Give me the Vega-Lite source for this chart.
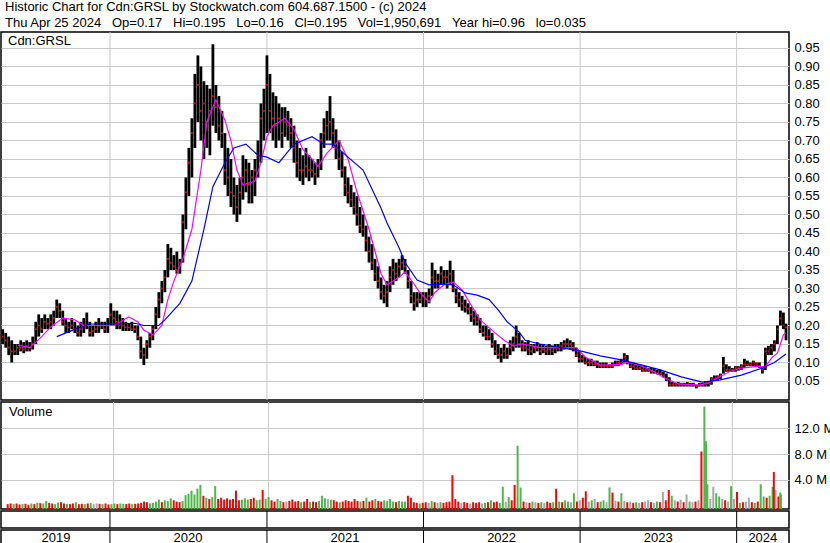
{
"$schema": "https://vega.github.io/schema/vega-lite/v6.json",
"padding": 0,
"background": "#FFFFFF",
"spacing": -2,
"config": {
  "font": "Liberation Sans",
  "view": {"stroke": "#000000", "strokeWidth": 1.5},
  "axis": {"labelFont": "Liberation Sans", "labelFontSize": 13, "labelColor": "#000000", "gridColor": "#C8C8C8", "gridOpacity": 1, "gridWidth": 1, "labelOverlap": false, "labelFlush": false},
  "title": {"font": "Liberation Sans", "fontWeight": "normal", "color": "#000000", "fontSize": 13}
},
"title": {
  "text": ["Historic Chart for Cdn:GRSL by Stockwatch.com 604.687.1500 - (c) 2024", "Thu Apr 25 2024\u00a0\u00a0\u00a0Op=0.17\u00a0\u00a0\u00a0Hi=0.195\u00a0\u00a0\u00a0Lo=0.16\u00a0\u00a0\u00a0Cl=0.195\u00a0\u00a0\u00a0Vol=1,950,691\u00a0\u00a0\u00a0Year hi=0.96\u00a0\u00a0\u00a0lo=0.035"],
  "anchor": "start", "frame": "group", "lineHeight": 16, "offset": 1, "dx": 4
},
"resolve": {"scale": {"x": "independent", "y": "independent", "color": "independent"}},
"datasets": {
  "p": [
{"d":"2019-04-26","h":0.19,"l":0.15,"c":0.17,"v":0.2,"k":"d"},
{"d":"2019-05-03","h":0.18,"l":0.14,"c":0.16,"v":0.3,"k":"d"},
{"d":"2019-05-10","h":0.17,"l":0.12,"c":0.14,"v":0.2,"k":"u"},
{"d":"2019-05-17","h":0.16,"l":0.10,"c":0.13,"v":0.3,"k":"d"},
{"d":"2019-05-24","h":0.15,"l":0.12,"c":0.13,"v":0.15,"k":"d"},
{"d":"2019-05-31","h":0.15,"l":0.12,"c":0.14,"v":0.2,"k":"u"},
{"d":"2019-06-07","h":0.16,"l":0.13,"c":0.14,"v":0.25,"k":"d"},
{"d":"2019-06-14","h":0.155,"l":0.125,"c":0.135,"v":0.1,"k":"d"},
{"d":"2019-06-21","h":0.16,"l":0.13,"c":0.145,"v":0.3,"k":"u"},
{"d":"2019-06-28","h":0.155,"l":0.13,"c":0.14,"v":0.2,"k":"d"},
{"d":"2019-07-05","h":0.17,"l":0.135,"c":0.15,"v":0.4,"k":"u"},
{"d":"2019-07-12","h":0.21,"l":0.15,"c":0.19,"v":0.35,"k":"d"},
{"d":"2019-07-19","h":0.23,"l":0.17,"c":0.20,"v":0.3,"k":"u"},
{"d":"2019-07-26","h":0.22,"l":0.18,"c":0.19,"v":0.7,"k":"u"},
{"d":"2019-08-02","h":0.23,"l":0.19,"c":0.21,"v":0.4,"k":"d"},
{"d":"2019-08-09","h":0.22,"l":0.19,"c":0.205,"v":0.3,"k":"d"},
{"d":"2019-08-16","h":0.23,"l":0.19,"c":0.21,"v":0.2,"k":"u"},
{"d":"2019-08-23","h":0.24,"l":0.20,"c":0.22,"v":0.45,"k":"u"},
{"d":"2019-08-30","h":0.27,"l":0.22,"c":0.25,"v":0.5,"k":"d"},
{"d":"2019-09-06","h":0.26,"l":0.22,"c":0.24,"v":0.3,"k":"d"},
{"d":"2019-09-13","h":0.24,"l":0.20,"c":0.21,"v":0.25,"k":"u"},
{"d":"2019-09-20","h":0.22,"l":0.18,"c":0.20,"v":0.2,"k":"d"},
{"d":"2019-09-27","h":0.21,"l":0.18,"c":0.195,"v":0.3,"k":"d"},
{"d":"2019-10-04","h":0.22,"l":0.19,"c":0.20,"v":0.5,"k":"u"},
{"d":"2019-10-11","h":0.21,"l":0.18,"c":0.19,"v":0.2,"k":"d"},
{"d":"2019-10-18","h":0.20,"l":0.17,"c":0.18,"v":0.25,"k":"d"},
{"d":"2019-10-25","h":0.21,"l":0.17,"c":0.19,"v":0.2,"k":"u"},
{"d":"2019-11-01","h":0.22,"l":0.18,"c":0.20,"v":0.3,"k":"d"},
{"d":"2019-11-08","h":0.235,"l":0.19,"c":0.20,"v":0.35,"k":"u"},
{"d":"2019-11-15","h":0.21,"l":0.17,"c":0.18,"v":0.2,"k":"n"},
{"d":"2019-11-22","h":0.20,"l":0.17,"c":0.185,"v":0.3,"k":"n"},
{"d":"2019-11-29","h":0.21,"l":0.18,"c":0.19,"v":0.25,"k":"d"},
{"d":"2019-12-06","h":0.22,"l":0.18,"c":0.20,"v":0.2,"k":"u"},
{"d":"2019-12-13","h":0.21,"l":0.19,"c":0.20,"v":0.3,"k":"d"},
{"d":"2019-12-20","h":0.21,"l":0.18,"c":0.19,"v":0.15,"k":"d"},
{"d":"2019-12-27","h":0.22,"l":0.18,"c":0.20,"v":0.2,"k":"u"},
{"d":"2020-01-03","h":0.26,"l":0.20,"c":0.23,"v":0.3,"k":"u"},
{"d":"2020-01-10","h":0.24,"l":0.20,"c":0.22,"v":0.2,"k":"d"},
{"d":"2020-01-17","h":0.24,"l":0.19,"c":0.21,"v":0.3,"k":"u"},
{"d":"2020-01-24","h":0.23,"l":0.19,"c":0.20,"v":0.25,"k":"u"},
{"d":"2020-01-31","h":0.22,"l":0.185,"c":0.20,"v":0.2,"k":"d"},
{"d":"2020-02-07","h":0.21,"l":0.185,"c":0.195,"v":0.3,"k":"d"},
{"d":"2020-02-14","h":0.205,"l":0.185,"c":0.195,"v":0.2,"k":"u"},
{"d":"2020-02-21","h":0.21,"l":0.185,"c":0.19,"v":0.25,"k":"d"},
{"d":"2020-02-28","h":0.20,"l":0.18,"c":0.19,"v":0.3,"k":"d"},
{"d":"2020-03-06","h":0.20,"l":0.16,"c":0.17,"v":0.4,"k":"d"},
{"d":"2020-03-13","h":0.17,"l":0.11,"c":0.13,"v":0.6,"k":"d"},
{"d":"2020-03-20","h":0.14,"l":0.093,"c":0.12,"v":0.5,"k":"d"},
{"d":"2020-03-27","h":0.16,"l":0.11,"c":0.15,"v":0.3,"k":"u"},
{"d":"2020-04-03","h":0.18,"l":0.14,"c":0.17,"v":0.4,"k":"u"},
{"d":"2020-04-10","h":0.20,"l":0.16,"c":0.19,"v":0.6,"k":"u"},
{"d":"2020-04-17","h":0.25,"l":0.19,"c":0.23,"v":0.9,"k":"u"},
{"d":"2020-04-24","h":0.29,"l":0.22,"c":0.27,"v":0.5,"k":"d"},
{"d":"2020-05-01","h":0.32,"l":0.26,"c":0.30,"v":0.8,"k":"u"},
{"d":"2020-05-08","h":0.35,"l":0.29,"c":0.33,"v":0.7,"k":"u"},
{"d":"2020-05-15","h":0.42,"l":0.33,"c":0.38,"v":1.1,"k":"u"},
{"d":"2020-05-22","h":0.41,"l":0.35,"c":0.37,"v":0.8,"k":"d"},
{"d":"2020-05-29","h":0.39,"l":0.35,"c":0.36,"v":0.6,"k":"d"},
{"d":"2020-06-05","h":0.40,"l":0.34,"c":0.35,"v":0.5,"k":"d"},
{"d":"2020-06-12","h":0.38,"l":0.34,"c":0.37,"v":0.7,"k":"u"},
{"d":"2020-06-19","h":0.50,"l":0.37,"c":0.48,"v":1.6,"k":"u"},
{"d":"2020-06-26","h":0.60,"l":0.46,"c":0.56,"v":1.8,"k":"u"},
{"d":"2020-07-03","h":0.68,"l":0.55,"c":0.64,"v":2.3,"k":"u"},
{"d":"2020-07-10","h":0.76,"l":0.60,"c":0.72,"v":1.7,"k":"u"},
{"d":"2020-07-17","h":0.88,"l":0.68,"c":0.80,"v":2.6,"k":"u"},
{"d":"2020-07-24","h":0.93,"l":0.75,"c":0.85,"v":3.2,"k":"u"},
{"d":"2020-07-31","h":0.90,"l":0.70,"c":0.78,"v":1.5,"k":"d"},
{"d":"2020-08-07","h":0.86,"l":0.65,"c":0.80,"v":1.2,"k":"u"},
{"d":"2020-08-14","h":0.85,"l":0.68,"c":0.75,"v":1.0,"k":"d"},
{"d":"2020-08-21","h":0.84,"l":0.66,"c":0.78,"v":1.3,"k":"u"},
{"d":"2020-08-28","h":0.96,"l":0.74,"c":0.82,"v":3.0,"k":"u"},
{"d":"2020-09-04","h":0.85,"l":0.72,"c":0.79,"v":1.0,"k":"d"},
{"d":"2020-09-11","h":0.82,"l":0.70,"c":0.74,"v":1.2,"k":"d"},
{"d":"2020-09-18","h":0.78,"l":0.68,"c":0.72,"v":0.9,"k":"d"},
{"d":"2020-09-25","h":0.72,"l":0.58,"c":0.62,"v":1.1,"k":"d"},
{"d":"2020-10-02","h":0.68,"l":0.55,"c":0.60,"v":0.9,"k":"d"},
{"d":"2020-10-09","h":0.65,"l":0.52,"c":0.56,"v":1.0,"k":"d"},
{"d":"2020-10-16","h":0.60,"l":0.50,"c":0.55,"v":2.3,"k":"d"},
{"d":"2020-10-23","h":0.58,"l":0.48,"c":0.52,"v":0.8,"k":"d"},
{"d":"2020-10-30","h":0.60,"l":0.50,"c":0.56,"v":0.9,"k":"u"},
{"d":"2020-11-06","h":0.66,"l":0.54,"c":0.60,"v":1.1,"k":"u"},
{"d":"2020-11-13","h":0.65,"l":0.56,"c":0.62,"v":0.9,"k":"u"},
{"d":"2020-11-20","h":0.64,"l":0.53,"c":0.58,"v":1.0,"k":"d"},
{"d":"2020-11-27","h":0.62,"l":0.53,"c":0.60,"v":1.2,"k":"d"},
{"d":"2020-12-04","h":0.65,"l":0.55,"c":0.62,"v":0.8,"k":"u"},
{"d":"2020-12-11","h":0.70,"l":0.60,"c":0.66,"v":0.9,"k":"u"},
{"d":"2020-12-18","h":0.80,"l":0.64,"c":0.76,"v":2.4,"k":"d"},
{"d":"2020-12-25","h":0.84,"l":0.70,"c":0.78,"v":1.0,"k":"u"},
{"d":"2021-01-01","h":0.93,"l":0.72,"c":0.85,"v":1.3,"k":"u"},
{"d":"2021-01-08","h":0.88,"l":0.72,"c":0.78,"v":0.8,"k":"d"},
{"d":"2021-01-15","h":0.83,"l":0.70,"c":0.76,"v":0.6,"k":"d"},
{"d":"2021-01-22","h":0.82,"l":0.68,"c":0.74,"v":1.0,"k":"u"},
{"d":"2021-01-29","h":0.80,"l":0.70,"c":0.76,"v":0.7,"k":"u"},
{"d":"2021-02-05","h":0.79,"l":0.68,"c":0.72,"v":0.5,"k":"d"},
{"d":"2021-02-12","h":0.79,"l":0.71,"c":0.75,"v":0.6,"k":"n"},
{"d":"2021-02-19","h":0.78,"l":0.70,"c":0.74,"v":0.7,"k":"d"},
{"d":"2021-02-26","h":0.76,"l":0.68,"c":0.72,"v":0.9,"k":"d"},
{"d":"2021-03-05","h":0.74,"l":0.64,"c":0.68,"v":0.6,"k":"d"},
{"d":"2021-03-12","h":0.70,"l":0.60,"c":0.64,"v":0.7,"k":"d"},
{"d":"2021-03-19","h":0.68,"l":0.59,"c":0.62,"v":0.5,"k":"u"},
{"d":"2021-03-26","h":0.66,"l":0.58,"c":0.62,"v":0.6,"k":"d"},
{"d":"2021-04-02","h":0.68,"l":0.60,"c":0.63,"v":1.0,"k":"d"},
{"d":"2021-04-09","h":0.66,"l":0.59,"c":0.62,"v":0.5,"k":"u"},
{"d":"2021-04-16","h":0.65,"l":0.60,"c":0.62,"v":0.6,"k":"d"},
{"d":"2021-04-23","h":0.64,"l":0.58,"c":0.61,"v":0.5,"k":"d"},
{"d":"2021-04-30","h":0.65,"l":0.60,"c":0.63,"v":0.7,"k":"u"},
{"d":"2021-05-07","h":0.72,"l":0.62,"c":0.70,"v":1.5,"k":"u"},
{"d":"2021-05-14","h":0.76,"l":0.68,"c":0.72,"v":1.1,"k":"u"},
{"d":"2021-05-21","h":0.78,"l":0.70,"c":0.74,"v":1.0,"k":"n"},
{"d":"2021-05-28","h":0.82,"l":0.70,"c":0.75,"v":0.9,"k":"u"},
{"d":"2021-06-04","h":0.76,"l":0.68,"c":0.72,"v":0.8,"k":"d"},
{"d":"2021-06-11","h":0.73,"l":0.65,"c":0.68,"v":0.6,"k":"d"},
{"d":"2021-06-18","h":0.70,"l":0.62,"c":0.65,"v":0.5,"k":"u"},
{"d":"2021-06-25","h":0.67,"l":0.60,"c":0.62,"v":0.6,"k":"d"},
{"d":"2021-07-02","h":0.63,"l":0.55,"c":0.58,"v":0.8,"k":"d"},
{"d":"2021-07-09","h":0.60,"l":0.53,"c":0.56,"v":0.7,"k":"d"},
{"d":"2021-07-16","h":0.58,"l":0.52,"c":0.54,"v":0.6,"k":"d"},
{"d":"2021-07-23","h":0.56,"l":0.50,"c":0.52,"v":1.0,"k":"d"},
{"d":"2021-07-30","h":0.55,"l":0.47,"c":0.50,"v":0.7,"k":"d"},
{"d":"2021-08-06","h":0.52,"l":0.45,"c":0.47,"v":0.6,"k":"u"},
{"d":"2021-08-13","h":0.50,"l":0.44,"c":0.46,"v":0.7,"k":"d"},
{"d":"2021-08-20","h":0.47,"l":0.40,"c":0.43,"v":1.2,"k":"u"},
{"d":"2021-08-27","h":0.44,"l":0.37,"c":0.40,"v":0.6,"k":"d"},
{"d":"2021-09-03","h":0.42,"l":0.35,"c":0.37,"v":0.8,"k":"d"},
{"d":"2021-09-10","h":0.38,"l":0.32,"c":0.34,"v":1.0,"k":"u"},
{"d":"2021-09-17","h":0.36,"l":0.30,"c":0.32,"v":0.7,"k":"d"},
{"d":"2021-09-24","h":0.33,"l":0.27,"c":0.29,"v":0.6,"k":"d"},
{"d":"2021-10-01","h":0.31,"l":0.26,"c":0.28,"v":0.8,"k":"u"},
{"d":"2021-10-08","h":0.32,"l":0.25,"c":0.29,"v":0.7,"k":"u"},
{"d":"2021-10-15","h":0.36,"l":0.29,"c":0.33,"v":1.0,"k":"u"},
{"d":"2021-10-22","h":0.38,"l":0.31,"c":0.35,"v":0.6,"k":"u"},
{"d":"2021-10-29","h":0.37,"l":0.32,"c":0.34,"v":0.5,"k":"d"},
{"d":"2021-11-05","h":0.38,"l":0.33,"c":0.36,"v":0.7,"k":"u"},
{"d":"2021-11-12","h":0.39,"l":0.35,"c":0.37,"v":0.6,"k":"u"},
{"d":"2021-11-19","h":0.38,"l":0.34,"c":0.36,"v":0.6,"k":"u"},
{"d":"2021-11-26","h":0.35,"l":0.30,"c":0.32,"v":1.5,"k":"d"},
{"d":"2021-12-03","h":0.32,"l":0.26,"c":0.28,"v":1.2,"k":"d"},
{"d":"2021-12-10","h":0.29,"l":0.24,"c":0.26,"v":0.5,"k":"d"},
{"d":"2021-12-17","h":0.29,"l":0.25,"c":0.27,"v":0.4,"k":"d"},
{"d":"2021-12-24","h":0.29,"l":0.26,"c":0.27,"v":0.3,"k":"u"},
{"d":"2021-12-31","h":0.29,"l":0.25,"c":0.28,"v":0.4,"k":"d"},
{"d":"2022-01-07","h":0.29,"l":0.25,"c":0.27,"v":0.5,"k":"d"},
{"d":"2022-01-14","h":0.30,"l":0.26,"c":0.28,"v":0.4,"k":"n"},
{"d":"2022-01-21","h":0.37,"l":0.28,"c":0.33,"v":0.7,"k":"u"},
{"d":"2022-01-28","h":0.35,"l":0.30,"c":0.32,"v":0.5,"k":"d"},
{"d":"2022-02-04","h":0.34,"l":0.30,"c":0.32,"v":0.4,"k":"n"},
{"d":"2022-02-11","h":0.36,"l":0.31,"c":0.34,"v":0.5,"k":"u"},
{"d":"2022-02-18","h":0.35,"l":0.31,"c":0.33,"v":0.4,"k":"d"},
{"d":"2022-02-25","h":0.35,"l":0.30,"c":0.33,"v":0.5,"k":"d"},
{"d":"2022-03-04","h":0.375,"l":0.31,"c":0.34,"v":0.6,"k":"d"},
{"d":"2022-03-11","h":0.35,"l":0.29,"c":0.30,"v":4.7,"k":"d"},
{"d":"2022-03-18","h":0.30,"l":0.26,"c":0.28,"v":1.0,"k":"d"},
{"d":"2022-03-25","h":0.29,"l":0.25,"c":0.27,"v":0.6,"k":"d"},
{"d":"2022-04-01","h":0.28,"l":0.24,"c":0.26,"v":0.4,"k":"n"},
{"d":"2022-04-08","h":0.27,"l":0.235,"c":0.25,"v":0.5,"k":"d"},
{"d":"2022-04-15","h":0.26,"l":0.23,"c":0.245,"v":0.4,"k":"d"},
{"d":"2022-04-22","h":0.25,"l":0.21,"c":0.23,"v":0.3,"k":"n"},
{"d":"2022-04-29","h":0.24,"l":0.20,"c":0.22,"v":0.5,"k":"d"},
{"d":"2022-05-06","h":0.23,"l":0.20,"c":0.21,"v":0.4,"k":"d"},
{"d":"2022-05-13","h":0.22,"l":0.18,"c":0.19,"v":0.5,"k":"d"},
{"d":"2022-05-20","h":0.20,"l":0.17,"c":0.18,"v":0.3,"k":"n"},
{"d":"2022-05-27","h":0.20,"l":0.16,"c":0.17,"v":0.4,"k":"u"},
{"d":"2022-06-03","h":0.19,"l":0.16,"c":0.17,"v":0.5,"k":"d"},
{"d":"2022-06-10","h":0.18,"l":0.14,"c":0.15,"v":0.8,"k":"u"},
{"d":"2022-06-17","h":0.16,"l":0.12,"c":0.13,"v":0.5,"k":"d"},
{"d":"2022-06-24","h":0.15,"l":0.11,"c":0.12,"v":0.6,"k":"d"},
{"d":"2022-07-01","h":0.14,"l":0.10,"c":0.12,"v":0.4,"k":"u"},
{"d":"2022-07-08","h":0.15,"l":0.11,"c":0.13,"v":2.9,"k":"u"},
{"d":"2022-07-15","h":0.14,"l":0.11,"c":0.12,"v":0.6,"k":"n"},
{"d":"2022-07-22","h":0.16,"l":0.12,"c":0.14,"v":1.3,"k":"u"},
{"d":"2022-07-29","h":0.17,"l":0.13,"c":0.15,"v":0.8,"k":"d"},
{"d":"2022-08-05","h":0.20,"l":0.14,"c":0.17,"v":3.2,"k":"d"},
{"d":"2022-08-12","h":0.18,"l":0.14,"c":0.15,"v":9.3,"k":"u"},
{"d":"2022-08-19","h":0.16,"l":0.13,"c":0.14,"v":2.8,"k":"u"},
{"d":"2022-08-26","h":0.155,"l":0.13,"c":0.14,"v":0.6,"k":"d"},
{"d":"2022-09-02","h":0.16,"l":0.12,"c":0.135,"v":0.5,"k":"n"},
{"d":"2022-09-09","h":0.15,"l":0.12,"c":0.13,"v":0.4,"k":"d"},
{"d":"2022-09-16","h":0.15,"l":0.125,"c":0.14,"v":0.6,"k":"u"},
{"d":"2022-09-23","h":0.155,"l":0.13,"c":0.14,"v":0.5,"k":"n"},
{"d":"2022-09-30","h":0.15,"l":0.12,"c":0.13,"v":0.4,"k":"d"},
{"d":"2022-10-07","h":0.15,"l":0.125,"c":0.135,"v":0.5,"k":"u"},
{"d":"2022-10-14","h":0.145,"l":0.12,"c":0.13,"v":0.4,"k":"n"},
{"d":"2022-10-21","h":0.15,"l":0.12,"c":0.135,"v":0.6,"k":"d"},
{"d":"2022-10-28","h":0.145,"l":0.12,"c":0.13,"v":0.4,"k":"d"},
{"d":"2022-11-04","h":0.15,"l":0.125,"c":0.14,"v":0.5,"k":"u"},
{"d":"2022-11-11","h":0.15,"l":0.13,"c":0.14,"v":2.6,"k":"d"},
{"d":"2022-11-18","h":0.155,"l":0.13,"c":0.145,"v":0.6,"k":"u"},
{"d":"2022-11-25","h":0.16,"l":0.135,"c":0.15,"v":0.5,"k":"d"},
{"d":"2022-12-02","h":0.165,"l":0.14,"c":0.15,"v":0.8,"k":"u"},
{"d":"2022-12-09","h":0.16,"l":0.135,"c":0.15,"v":0.6,"k":"u"},
{"d":"2022-12-16","h":0.155,"l":0.13,"c":0.14,"v":0.5,"k":"n"},
{"d":"2022-12-23","h":0.14,"l":0.115,"c":0.12,"v":1.9,"k":"u"},
{"d":"2022-12-30","h":0.13,"l":0.10,"c":0.11,"v":0.6,"k":"d"},
{"d":"2023-01-06","h":0.12,"l":0.10,"c":0.11,"v":0.8,"k":"n"},
{"d":"2023-01-13","h":0.115,"l":0.095,"c":0.10,"v":1.2,"k":"d"},
{"d":"2023-01-20","h":0.11,"l":0.09,"c":0.10,"v":2.2,"k":"d"},
{"d":"2023-01-27","h":0.11,"l":0.09,"c":0.10,"v":0.6,"k":"n"},
{"d":"2023-02-03","h":0.105,"l":0.09,"c":0.095,"v":0.8,"k":"u"},
{"d":"2023-02-10","h":0.105,"l":0.085,"c":0.095,"v":1.0,"k":"n"},
{"d":"2023-02-17","h":0.10,"l":0.085,"c":0.09,"v":0.5,"k":"d"},
{"d":"2023-02-24","h":0.10,"l":0.085,"c":0.09,"v":0.6,"k":"u"},
{"d":"2023-03-03","h":0.10,"l":0.085,"c":0.09,"v":0.8,"k":"u"},
{"d":"2023-03-10","h":0.095,"l":0.085,"c":0.09,"v":0.5,"k":"n"},
{"d":"2023-03-17","h":0.10,"l":0.085,"c":0.09,"v":2.8,"k":"u"},
{"d":"2023-03-24","h":0.105,"l":0.09,"c":0.095,"v":2.0,"k":"d"},
{"d":"2023-03-31","h":0.105,"l":0.09,"c":0.10,"v":0.7,"k":"n"},
{"d":"2023-04-07","h":0.11,"l":0.095,"c":0.10,"v":0.6,"k":"d"},
{"d":"2023-04-14","h":0.125,"l":0.10,"c":0.115,"v":1.9,"k":"u"},
{"d":"2023-04-21","h":0.12,"l":0.095,"c":0.10,"v":0.7,"k":"n"},
{"d":"2023-04-28","h":0.10,"l":0.085,"c":0.09,"v":0.5,"k":"d"},
{"d":"2023-05-05","h":0.10,"l":0.08,"c":0.09,"v":0.6,"k":"n"},
{"d":"2023-05-12","h":0.095,"l":0.08,"c":0.085,"v":0.4,"k":"d"},
{"d":"2023-05-19","h":0.093,"l":0.08,"c":0.085,"v":0.5,"k":"u"},
{"d":"2023-05-26","h":0.09,"l":0.075,"c":0.08,"v":0.4,"k":"n"},
{"d":"2023-06-02","h":0.09,"l":0.075,"c":0.08,"v":0.5,"k":"d"},
{"d":"2023-06-09","h":0.085,"l":0.075,"c":0.08,"v":0.6,"k":"n"},
{"d":"2023-06-16","h":0.085,"l":0.07,"c":0.075,"v":0.8,"k":"n"},
{"d":"2023-06-23","h":0.085,"l":0.07,"c":0.075,"v":0.5,"k":"d"},
{"d":"2023-06-30","h":0.08,"l":0.068,"c":0.07,"v":0.4,"k":"n"},
{"d":"2023-07-07","h":0.08,"l":0.066,"c":0.07,"v":0.6,"k":"u"},
{"d":"2023-07-14","h":0.075,"l":0.06,"c":0.065,"v":0.5,"k":"d"},
{"d":"2023-07-21","h":0.07,"l":0.05,"c":0.055,"v":2.1,"k":"n"},
{"d":"2023-07-28","h":0.06,"l":0.035,"c":0.04,"v":0.8,"k":"d"},
{"d":"2023-08-04","h":0.047,"l":0.035,"c":0.04,"v":2.4,"k":"d"},
{"d":"2023-08-11","h":0.045,"l":0.035,"c":0.04,"v":1.5,"k":"u"},
{"d":"2023-08-18","h":0.047,"l":0.035,"c":0.04,"v":0.8,"k":"n"},
{"d":"2023-08-25","h":0.045,"l":0.035,"c":0.04,"v":0.6,"k":"d"},
{"d":"2023-09-01","h":0.045,"l":0.035,"c":0.04,"v":0.9,"k":"n"},
{"d":"2023-09-08","h":0.047,"l":0.035,"c":0.04,"v":0.5,"k":"d"},
{"d":"2023-09-15","h":0.045,"l":0.035,"c":0.04,"v":1.7,"k":"n"},
{"d":"2023-09-22","h":0.045,"l":0.035,"c":0.04,"v":0.6,"k":"u"},
{"d":"2023-09-29","h":0.04,"l":0.03,"c":0.035,"v":0.5,"k":"n"},
{"d":"2023-10-06","h":0.045,"l":0.035,"c":0.04,"v":0.6,"k":"d"},
{"d":"2023-10-13","h":0.045,"l":0.035,"c":0.04,"v":0.8,"k":"n"},
{"d":"2023-10-20","h":0.05,"l":0.035,"c":0.045,"v":8.4,"k":"d"},
{"d":"2023-10-27","h":0.05,"l":0.035,"c":0.045,"v":15.4,"k":"u"},
{"d":"2023-11-03","h":0.06,"l":0.04,"c":0.055,"v":3.3,"k":"u"},
{"d":"2023-11-10","h":0.065,"l":0.05,"c":0.055,"v":1.0,"k":"n"},
{"d":"2023-11-17","h":0.065,"l":0.05,"c":0.06,"v":2.9,"k":"n"},
{"d":"2023-11-24","h":0.07,"l":0.055,"c":0.065,"v":1.9,"k":"u"},
{"d":"2023-12-01","h":0.115,"l":0.07,"c":0.09,"v":1.4,"k":"u"},
{"d":"2023-12-08","h":0.095,"l":0.075,"c":0.08,"v":1.0,"k":"n"},
{"d":"2023-12-15","h":0.09,"l":0.075,"c":0.08,"v":0.8,"k":"d"},
{"d":"2023-12-22","h":0.085,"l":0.075,"c":0.08,"v":0.6,"k":"n"},
{"d":"2023-12-29","h":0.09,"l":0.075,"c":0.085,"v":3.0,"k":"u"},
{"d":"2024-01-05","h":0.09,"l":0.078,"c":0.085,"v":1.0,"k":"n"},
{"d":"2024-01-12","h":0.095,"l":0.08,"c":0.09,"v":2.1,"k":"d"},
{"d":"2024-01-19","h":0.11,"l":0.085,"c":0.095,"v":0.4,"k":"u"},
{"d":"2024-01-26","h":0.105,"l":0.09,"c":0.095,"v":0.5,"k":"d"},
{"d":"2024-02-02","h":0.10,"l":0.09,"c":0.095,"v":0.6,"k":"n"},
{"d":"2024-02-09","h":0.105,"l":0.09,"c":0.10,"v":1.2,"k":"n"},
{"d":"2024-02-16","h":0.10,"l":0.09,"c":0.095,"v":0.5,"k":"d"},
{"d":"2024-02-23","h":0.10,"l":0.085,"c":0.09,"v":0.4,"k":"u"},
{"d":"2024-03-01","h":0.09,"l":0.07,"c":0.08,"v":0.6,"k":"d"},
{"d":"2024-03-08","h":0.14,"l":0.08,"c":0.13,"v":3.3,"k":"u"},
{"d":"2024-03-15","h":0.145,"l":0.12,"c":0.13,"v":1.4,"k":"u"},
{"d":"2024-03-22","h":0.15,"l":0.12,"c":0.14,"v":1.2,"k":"d"},
{"d":"2024-03-29","h":0.16,"l":0.13,"c":0.15,"v":1.5,"k":"u"},
{"d":"2024-04-05","h":0.20,"l":0.15,"c":0.19,"v":2.9,"k":"u"},
{"d":"2024-04-12","h":0.24,"l":0.20,"c":0.22,"v":2.4,"k":"n"},
{"d":"2024-04-19","h":0.235,"l":0.19,"c":0.20,"v":1.4,"k":"d"},
{"d":"2024-04-25","h":0.205,"l":0.16,"c":0.195,"v":1.7,"k":"u"}
  ],
  "vx": [
{"d":"2023-10-31","v":10.0,"k":"u"},
{"d":"2024-04-08","v":5.2,"k":"d"},
{"d":"2024-04-23","v":2.0,"k":"u"}
  ],
  "m1": [
{"d":"2019-05-31","v":0.147},{"d":"2019-06-28","v":0.14},{"d":"2019-07-26","v":0.17},{"d":"2019-08-16","v":0.196},
{"d":"2019-09-13","v":0.22},{"d":"2019-10-11","v":0.215},{"d":"2019-11-01","v":0.20},{"d":"2019-12-13","v":0.20},
{"d":"2020-01-10","v":0.20},{"d":"2020-02-14","v":0.223},{"d":"2020-03-06","v":0.21},{"d":"2020-03-20","v":0.188},
{"d":"2020-04-10","v":0.174},{"d":"2020-05-01","v":0.20},{"d":"2020-05-15","v":0.27},{"d":"2020-05-29","v":0.32},
{"d":"2020-06-19","v":0.38},{"d":"2020-07-10","v":0.46},{"d":"2020-07-31","v":0.62},{"d":"2020-08-14","v":0.75},
{"d":"2020-09-04","v":0.81},{"d":"2020-09-25","v":0.755},{"d":"2020-10-09","v":0.70},{"d":"2020-10-23","v":0.62},
{"d":"2020-11-06","v":0.58},{"d":"2020-12-04","v":0.59},{"d":"2020-12-18","v":0.64},{"d":"2021-01-01","v":0.71},
{"d":"2021-01-15","v":0.74},{"d":"2021-02-12","v":0.76},{"d":"2021-03-05","v":0.73},{"d":"2021-03-26","v":0.675},
{"d":"2021-04-16","v":0.65},{"d":"2021-04-30","v":0.63},{"d":"2021-05-21","v":0.666},{"d":"2021-06-18","v":0.70},
{"d":"2021-07-09","v":0.65},{"d":"2021-07-30","v":0.56},{"d":"2021-08-27","v":0.46},{"d":"2021-09-10","v":0.40},
{"d":"2021-09-24","v":0.34},{"d":"2021-10-08","v":0.31},{"d":"2021-11-05","v":0.33},{"d":"2021-11-19","v":0.345},
{"d":"2021-12-03","v":0.323},{"d":"2021-12-24","v":0.288},{"d":"2022-01-14","v":0.264},{"d":"2022-01-28","v":0.29},
{"d":"2022-02-18","v":0.31},{"d":"2022-03-11","v":0.318},{"d":"2022-04-01","v":0.296},{"d":"2022-04-22","v":0.255},
{"d":"2022-05-13","v":0.215},{"d":"2022-06-17","v":0.18},{"d":"2022-07-08","v":0.16},{"d":"2022-07-29","v":0.145},
{"d":"2022-08-19","v":0.15},{"d":"2022-09-30","v":0.14},{"d":"2022-11-18","v":0.14},{"d":"2022-12-23","v":0.14},
{"d":"2023-01-13","v":0.115},{"d":"2023-02-17","v":0.093},{"d":"2023-04-07","v":0.095},{"d":"2023-04-21","v":0.10},
{"d":"2023-05-19","v":0.093},{"d":"2023-06-23","v":0.075},{"d":"2023-07-14","v":0.06},{"d":"2023-08-18","v":0.042},
{"d":"2023-10-06","v":0.039},{"d":"2023-10-27","v":0.044},{"d":"2023-11-17","v":0.058},{"d":"2023-12-15","v":0.075},
{"d":"2024-01-12","v":0.085},{"d":"2024-02-23","v":0.09},{"d":"2024-03-08","v":0.088},{"d":"2024-03-22","v":0.112},
{"d":"2024-04-05","v":0.125},{"d":"2024-04-19","v":0.175},{"d":"2024-04-25","v":0.18}
  ],
  "m2": [
{"d":"2019-08-30","v":0.17},{"d":"2019-10-18","v":0.193},{"d":"2019-11-15","v":0.204},{"d":"2020-01-03","v":0.204},
{"d":"2020-02-28","v":0.206},{"d":"2020-03-20","v":0.20},{"d":"2020-04-24","v":0.20},{"d":"2020-05-08","v":0.215},
{"d":"2020-06-12","v":0.26},{"d":"2020-07-10","v":0.32},{"d":"2020-08-07","v":0.46},{"d":"2020-08-28","v":0.575},
{"d":"2020-09-25","v":0.64},{"d":"2020-10-16","v":0.68},{"d":"2020-11-13","v":0.69},{"d":"2020-12-11","v":0.66},
{"d":"2021-01-01","v":0.655},{"d":"2021-01-29","v":0.64},{"d":"2021-03-05","v":0.69},{"d":"2021-04-16","v":0.71},
{"d":"2021-05-14","v":0.69},{"d":"2021-06-04","v":0.69},{"d":"2021-07-09","v":0.655},{"d":"2021-08-13","v":0.62},
{"d":"2021-09-24","v":0.517},{"d":"2021-10-08","v":0.477},{"d":"2021-11-05","v":0.41},{"d":"2021-11-19","v":0.37},
{"d":"2021-12-17","v":0.323},{"d":"2022-01-14","v":0.31},{"d":"2022-02-11","v":0.312},{"d":"2022-03-11","v":0.31},
{"d":"2022-04-08","v":0.288},{"d":"2022-05-06","v":0.282},{"d":"2022-06-03","v":0.27},{"d":"2022-06-24","v":0.242},
{"d":"2022-07-15","v":0.21},{"d":"2022-08-12","v":0.182},{"d":"2022-08-26","v":0.16},{"d":"2022-09-30","v":0.15},
{"d":"2022-11-18","v":0.14},{"d":"2023-01-06","v":0.13},{"d":"2023-02-17","v":0.118},{"d":"2023-04-07","v":0.107},
{"d":"2023-05-26","v":0.093},{"d":"2023-07-07","v":0.08},{"d":"2023-08-25","v":0.061},{"d":"2023-10-13","v":0.047},
{"d":"2023-11-24","v":0.053},{"d":"2024-01-12","v":0.066},{"d":"2024-03-01","v":0.085},{"d":"2024-03-29","v":0.10},
{"d":"2024-04-25","v":0.123}
  ],
  "yb": [{"d":"2020-01-01"},{"d":"2021-01-01"},{"d":"2022-01-01"},{"d":"2023-01-01"},{"d":"2024-01-01"}],
  "yr": [{"y":"2019","m":"2019-08-28"},{"y":"2020","m":"2020-07-01"},{"y":"2021","m":"2021-07-02"},{"y":"2022","m":"2022-07-02"},{"y":"2023","m":"2023-07-02"},{"y":"2024","m":"2024-03-02"}]
},
"vconcat": [
  {
    "width": 788, "height": 368,
    "title": {"text": "Cdn:GRSL", "anchor": "start", "offset": -16, "dx": 7},
    "layer": [
      {"data": {"name": "yb"}, "mark": {"type": "rule", "color": "#C8C8C8", "strokeWidth": 1},
       "encoding": {"x": {"field": "d", "type": "temporal", "scale": {"type": "utc", "domain": [{"year":2019,"month":4,"date":22,"utc":true},{"year":2024,"month":5,"date":2,"utc":true}]}, "axis": null}}},
      {"data": {"name": "p"}, "mark": {"type": "rule", "color": "#000000", "strokeWidth": 2.8},
       "encoding": {
         "x": {"field": "d", "type": "temporal", "scale": {"type": "utc", "domain": [{"year":2019,"month":4,"date":22,"utc":true},{"year":2024,"month":5,"date":2,"utc":true}]}, "axis": null},
         "y": {"field": "l", "type": "quantitative", "scale": {"domain": [-0.0014, 0.9932], "nice": false, "zero": false},
               "axis": {"orient": "right", "values": [0.05,0.1,0.15,0.2,0.25,0.3,0.35,0.4,0.45,0.5,0.55,0.6,0.65,0.7,0.75,0.8,0.85,0.9,0.95], "format": ".2f", "ticks": false, "domain": false, "grid": true, "labelPadding": 5, "labelFlush": false, "labelOverlap": false, "title": null}},
         "y2": {"field": "h"}}},
      {"data": {"name": "p"}, "mark": {"type": "square", "color": "#FF0000", "size": 3, "opacity": 1, "filled": true},
       "encoding": {
         "x": {"field": "d", "type": "temporal", "scale": {"type": "utc", "domain": [{"year":2019,"month":4,"date":22,"utc":true},{"year":2024,"month":5,"date":2,"utc":true}]}, "axis": null},
         "y": {"field": "c", "type": "quantitative", "scale": {"domain": [-0.0014, 0.9932], "nice": false, "zero": false},
               "axis": {"orient": "right", "values": [0.05,0.1,0.15,0.2,0.25,0.3,0.35,0.4,0.45,0.5,0.55,0.6,0.65,0.7,0.75,0.8,0.85,0.9,0.95], "format": ".2f", "ticks": false, "domain": false, "grid": true, "labelPadding": 5, "labelFlush": false, "labelOverlap": false, "title": null}}}},
      {"data": {"name": "m1"}, "mark": {"type": "line", "color": "#FF00FF", "strokeWidth": 1.2},
       "encoding": {
         "x": {"field": "d", "type": "temporal", "scale": {"type": "utc", "domain": [{"year":2019,"month":4,"date":22,"utc":true},{"year":2024,"month":5,"date":2,"utc":true}]}, "axis": null},
         "y": {"field": "v", "type": "quantitative", "scale": {"domain": [-0.0014, 0.9932], "nice": false, "zero": false},
               "axis": {"orient": "right", "values": [0.05,0.1,0.15,0.2,0.25,0.3,0.35,0.4,0.45,0.5,0.55,0.6,0.65,0.7,0.75,0.8,0.85,0.9,0.95], "format": ".2f", "ticks": false, "domain": false, "grid": true, "labelPadding": 5, "labelFlush": false, "labelOverlap": false, "title": null}}}},
      {"data": {"name": "m2"}, "mark": {"type": "line", "color": "#0000FF", "strokeWidth": 1.2},
       "encoding": {
         "x": {"field": "d", "type": "temporal", "scale": {"type": "utc", "domain": [{"year":2019,"month":4,"date":22,"utc":true},{"year":2024,"month":5,"date":2,"utc":true}]}, "axis": null},
         "y": {"field": "v", "type": "quantitative", "scale": {"domain": [-0.0014, 0.9932], "nice": false, "zero": false},
               "axis": {"orient": "right", "values": [0.05,0.1,0.15,0.2,0.25,0.3,0.35,0.4,0.45,0.5,0.55,0.6,0.65,0.7,0.75,0.8,0.85,0.9,0.95], "format": ".2f", "ticks": false, "domain": false, "grid": true, "labelPadding": 5, "labelFlush": false, "labelOverlap": false, "title": null}}}}
    ]
  },
  {
    "spacing": -6,
    "resolve": {"scale": {"x": "independent", "y": "independent", "color": "independent"}},
    "vconcat": [
      {
        "width": 788, "height": 107,
        "title": {"text": "Volume", "anchor": "start", "offset": -17, "dx": 8},
        "layer": [
          {"data": {"name": "yb"}, "mark": {"type": "rule", "color": "#C8C8C8", "strokeWidth": 1},
           "encoding": {"x": {"field": "d", "type": "temporal", "scale": {"type": "utc", "domain": [{"year":2019,"month":4,"date":22,"utc":true},{"year":2024,"month":5,"date":2,"utc":true}]}, "axis": null}}},
          {"data": {"name": "p"}, "mark": {"type": "bar", "width": 2},
           "encoding": {
             "x": {"field": "d", "type": "temporal", "scale": {"type": "utc", "domain": [{"year":2019,"month":4,"date":22,"utc":true},{"year":2024,"month":5,"date":2,"utc":true}]}, "axis": null},
             "y": {"field": "v", "type": "quantitative", "scale": {"domain": [-0.56, 16.11], "nice": false, "zero": false},
                   "axis": {"orient": "right", "values": [4, 8, 12], "labelExpr": "format(datum.value, '.1f') + ' M'", "ticks": false, "domain": false, "grid": true, "labelPadding": 5, "labelFlush": false, "labelOverlap": false, "title": null}},
             "y2": {"datum": -0.56},
             "color": {"field": "k", "type": "nominal", "scale": {"domain": ["u", "d", "n"], "range": ["#4DB848", "#FF0000", "#A8A8A8"]}, "legend": null}}},
          {"data": {"name": "vx"}, "mark": {"type": "bar", "width": 2},
           "encoding": {
             "x": {"field": "d", "type": "temporal", "scale": {"type": "utc", "domain": [{"year":2019,"month":4,"date":22,"utc":true},{"year":2024,"month":5,"date":2,"utc":true}]}, "axis": null},
             "y": {"field": "v", "type": "quantitative", "scale": {"domain": [-0.56, 16.11], "nice": false, "zero": false},
                   "axis": {"orient": "right", "values": [4, 8, 12], "labelExpr": "format(datum.value, '.1f') + ' M'", "ticks": false, "domain": false, "grid": true, "labelPadding": 5, "labelFlush": false, "labelOverlap": false, "title": null}},
             "y2": {"datum": -0.56},
             "color": {"field": "k", "type": "nominal", "scale": {"domain": ["u", "d", "n"], "range": ["#4DB848", "#FF0000", "#A8A8A8"]}, "legend": null}}}
        ]
      },
      {
        "width": 788, "height": 17,
        "data": {"name": "yb"},
        "mark": {"type": "rule", "color": "#000000", "strokeWidth": 1},
        "encoding": {"x": {"field": "d", "type": "temporal", "scale": {"type": "utc", "domain": [{"year":2019,"month":4,"date":22,"utc":true},{"year":2024,"month":5,"date":2,"utc":true}]}, "axis": null}}
      },
      {
        "width": 788, "height": 16,
        "layer": [
          {"data": {"name": "yb"}, "mark": {"type": "rule", "color": "#000000", "strokeWidth": 1},
           "encoding": {"x": {"field": "d", "type": "temporal", "scale": {"type": "utc", "domain": [{"year":2019,"month":4,"date":22,"utc":true},{"year":2024,"month":5,"date":2,"utc":true}]}, "axis": null}}},
          {"data": {"name": "yr"}, "mark": {"type": "text", "fontSize": 13, "font": "Liberation Sans", "baseline": "middle", "align": "center", "color": "#000000"},
           "encoding": {"x": {"field": "m", "type": "temporal", "scale": {"type": "utc", "domain": [{"year":2019,"month":4,"date":22,"utc":true},{"year":2024,"month":5,"date":2,"utc":true}]}, "axis": null},
                        "y": {"datum": 0.5, "type": "quantitative", "scale": {"domain": [0, 1]}, "axis": null},
                        "text": {"field": "y"}}}
        ]
      }
    ]
  }
]
}
